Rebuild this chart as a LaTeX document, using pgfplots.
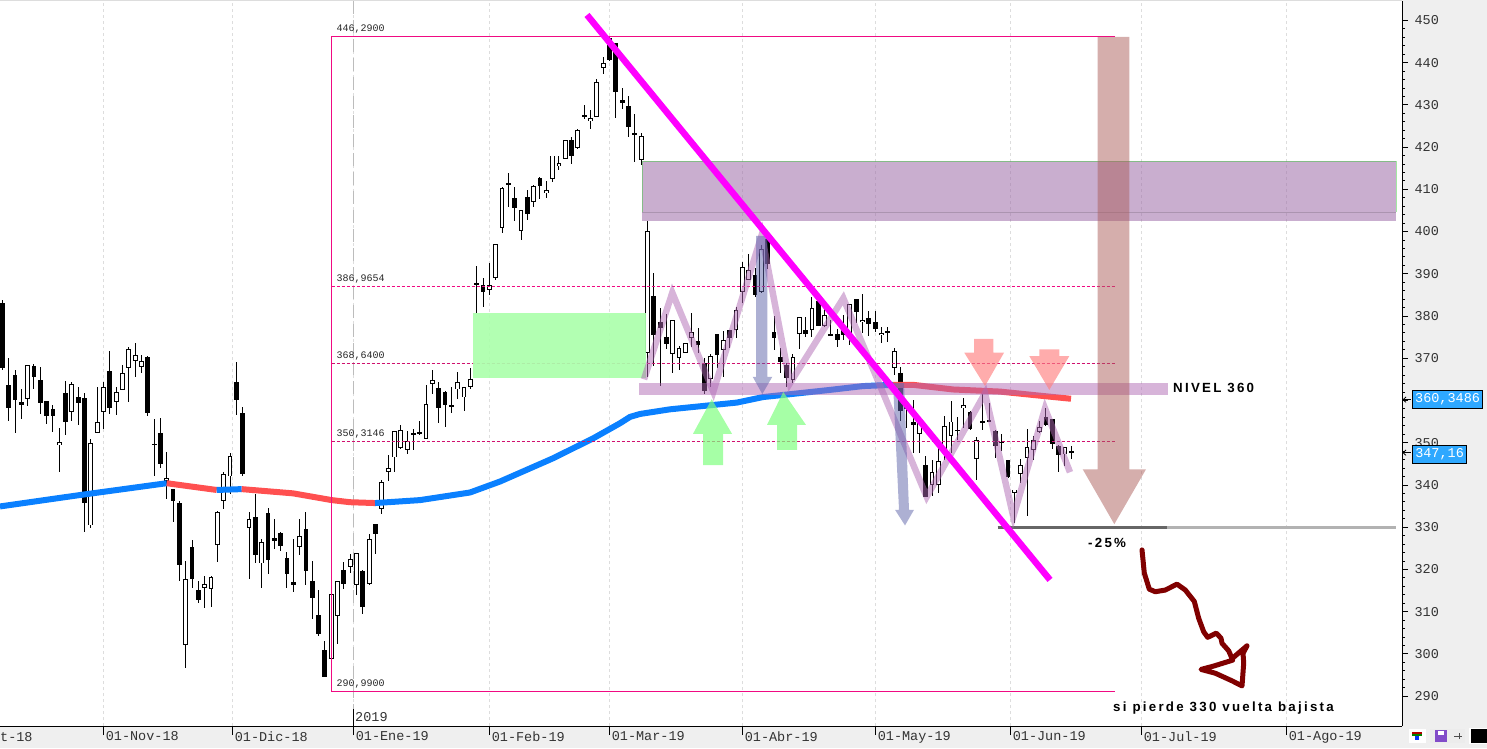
\documentclass[border=0pt]{standalone}
\usepackage{fontspec}
\setmainfont{Liberation Sans}
\setmonofont{Liberation Mono}
\newfontfamily\notefont[LetterSpace=17]{Liberation Sans}
\usepackage{pgfplots}
\usepackage{pgfplotstable}
\pgfplotsset{compat=1.18}

\definecolor{panel}{HTML}{EFEFEF}
\definecolor{gridc}{HTML}{DDDDDD}
\definecolor{fib}{HTML}{F00A82}
\definecolor{fibd}{HTML}{D0106E}
\definecolor{mablue}{HTML}{0A80FF}
\definecolor{mared}{HTML}{FF5050}
\definecolor{zig}{HTML}{AF69B4}
\definecolor{boxp}{HTML}{9C6CA8}
\definecolor{slate}{HTML}{5C62A8}
\definecolor{boxg}{HTML}{ABFFAB}
\definecolor{brownarrow}{HTML}{AB5D5A}
\definecolor{tag}{HTML}{2EA8FF}
\definecolor{tickc}{HTML}{333333}

% bar number, open, high, low, close
\pgfplotstableread{
i o h l c
0 383.0 383.8 367.2 367.8
1 363.6 370.0 355.1 358.3
2 366.0 367.2 352.4 360.2
3 359.6 362.7 355.6 359.0
5 368.1 368.6 362.8 365.6
6 364.8 367.9 356.8 359.5
7 359.8 359.8 354.4 356.4
8 357.9 358.9 352.5 356.2
10 361.7 364.6 351.8 354.8
12 360.8 363.3 354.2 359.5
13 360.5 361.7 328.9 335.8
17 366.9 371.6 356.8 358.1
23 370.2 370.5 356.2 357.1
24 349.7 355.5 342.2 349.5
25 352.2 355.8 344.1 345.0
27 339.0 339.0 331.3 336.3
28 335.6 336.1 317.3 321.1
30 325.2 326.9 315.7 317.6
31 315.0 317.2 312.1 312.7
37 364.3 369.0 356.6 360.2
38 357.0 358.4 342.0 342.7
40 332.3 337.9 321.5 323.5
42 333.3 334.5 319.0 322.3
43 327.4 331.9 324.8 326.8
44 328.5 328.8 324.3 325.6
45 322.6 324.0 315.7 319.0
46 316.9 327.3 314.7 316.4
48 329.5 333.5 316.4 319.7
49 317.2 321.9 308.3 313.3
50 309.1 315.0 304.3 304.8
51 300.9 303.0 294.4 294.4
54 319.8 321.7 315.4 316.6
57 319.5 319.8 309.5 311.2
59 330.7 330.7 323.6 328.3
65 352.2 353.2 348.2 352.0
66 352.5 355.1 351.8 352.2
69 362.9 364.3 354.6 358.1
70 361.9 362.2 353.8 358.9
71 358.9 363.1 357.1 358.5
75 387.75 391.8 380.6 387.4
76 387.3 388.9 382.2 385.8
81 407.9 410.5 402.4 405.5
83 408.1 409.8 402.8 404.1
85 412.6 412.9 407.8 410.7
90 421.6 422.3 415.9 417.8
92 427.5 429.9 426.6 427.1
96 445.8 446.3 440.3 440.7
97 444.6 444.6 426.8 433.0
98 431.1 433.9 429.0 430.4
99 429.7 432.0 422.3 424.7
100 423.3 427.8 416.5 422.8
103 384.7 390.1 368.2 375.5
104 378.5 381.8 363.5 377.2
105 375.0 380.4 372.2 373.4
110 374.0 377.1 371.2 373.1
111 368.8 370.0 361.6 362.3
113 375.7 375.7 367.7 370.7
115 376.6 376.6 372.4 374.7
119 389.7 391.3 384.4 384.9
121 398.2 399.6 391.1 392.2
122 376.1 379.9 372.0 374.7
123 370.2 372.4 366.4 369.2
124 368.3 368.8 363.1 365.2
127 376.6 379.7 375.0 375.7
129 383.5 384.2 377.7 377.7
131 375.7 379.0 375.2 375.4
132 375.7 376.9 372.7 374.2
133 377.1 380.3 374.3 375.5
135 384.0 384.0 378.3 380.9
137 379.5 381.1 375.2 378.0
138 378.5 381.1 376.1 377.0
140 376.4 377.3 373.8 376.1
142 366.4 367.9 355.1 357.4
143 358.9 360.0 353.4 357.9
144 354.9 360.0 347.5 354.2
146 344.6 346.8 337.2 337.2
151 353.0 356.0 350.6 352.8
153 357.2 357.4 352.9 353.2
155 355.1 361.5 353.0 354.9
156 355.3 359.3 355.0 355.0
157 352.8 352.9 346.3 349.1
158 350.2 352.0 348.0 350.0
159 345.8 345.8 341.6 341.8
165 356.0 358.1 353.9 354.1
166 355.5 355.5 348.4 349.6
167 349.1 349.4 343.0 347.2
169 348.0 349.1 346.1 347.5
}\downbars

\pgfplotstableread{
i o h l c
4 360.4 368.3 358.8 368.3
9 349.5 353.4 343.1 350.1
11 357.3 364.3 355.1 363.8
14 330.4 350.8 329.9 349.9
15 352.4 363.1 352.4 354.8
16 357.3 364.3 353.25 363.1
18 359.7 363.1 356.6 361.9
19 362.4 368.3 362.4 366.4
20 367.6 372.6 359.6 372.1
21 369.3 373.5 365.6 370.7
22 367.9 370.7 366.4 369.3
26 341.0 347.7 336.7 341.6
29 302.2 321.9 296.7 317.6
32 315.5 318.4 310.9 316.5
33 315.3 318.5 311.2 318.1
34 325.7 333.8 321.8 333.5
35 336.1 343.0 334.3 342.5
36 342.0 347.5 337.8 346.8
39 329.9 333.5 317.6 331.9
41 321.4 327.1 315.7 326.4
47 325.4 331.9 323.4 328.0
52 298.7 314.1 298.7 314.1
53 309.0 317.2 302.3 317.2
55 320.5 323.6 319.1 322.5
56 316.2 323.8 314.0 323.8
58 316.6 328.3 316.4 327.1
60 334.2 341.1 333.0 340.6
61 343.0 347.0 341.0 343.9
62 346.5 352.7 343.1 352.7
63 348.7 354.1 348.4 352.9
64 348.2 352.7 347.3 350.3
67 350.8 363.6 350.8 359.1
68 363.8 367.1 361.6 364.8
72 362.6 366.7 360.4 364.3
73 360.7 363.1 357.6 363.1
74 363.1 367.6 362.6 365.0
77 386.1 392.5 384.9 387.4
78 388.9 397.0 388.5 397.0
79 400.8 410.5 399.7 410.2
80 411.3 413.8 405.9 411.4
82 400.1 405.0 398.1 405.0
84 406.9 411.0 405.7 410.7
86 409.1 411.9 408.0 409.8
87 412.4 418.0 411.7 418.0
88 415.5 417.8 414.6 416.2
89 417.1 421.6 417.1 421.6
91 419.7 424.2 419.5 424.0
93 426.1 428.7 424.4 426.8
94 427.1 436.1 427.1 435.4
95 438.7 441.3 437.2 439.9
101 416.9 423.3 415.7 422.6
102 371.3 402.4 365.6 400.1
106 370.9 379.0 366.6 379.0
107 370.0 372.8 367.3 372.4
108 371.2 373.5 371.2 373.5
109 374.7 380.6 372.6 376.1
112 365.0 370.9 363.1 370.5
114 371.9 376.4 365.6 374.2
116 376.6 382.1 374.9 381.4
117 385.8 392.7 383.0 391.5
118 388.5 394.6 388.5 390.8
120 385.8 396.7 385.4 395.8
125 364.8 370.9 364.1 370.2
126 375.7 379.7 372.2 379.7
128 376.6 384.4 375.0 381.8
130 377.6 381.6 377.5 380.2
134 375.9 382.8 373.1 382.8
136 378.5 385.1 375.9 379.0
139 375.4 377.3 373.5 375.9
141 367.8 372.4 366.0 371.6
145 352.0 354.6 347.5 354.6
147 339.9 345.8 337.3 343.0
148 339.9 348.7 338.0 345.6
149 347.5 356.2 346.0 353.9
150 351.5 359.8 347.5 355.0
152 358.1 360.5 353.4 358.9
154 346.1 351.3 341.2 350.6
160 338.2 338.9 330.9 338.9
161 342.5 346.1 340.4 344.6
162 346.3 353.2 332.7 348.9
163 348.2 351.5 345.8 350.6
164 352.5 355.1 352.2 353.6
168 347.2 348.9 344.4 348.9
}\upbars

% x position of a bar on the axis
\newcommand{\barx}{2.3+6.325*\thisrow{i}}

\pgfplotsset{
  bars/.style 2 args={mark=none, draw=none, forget plot,
    error bars/.cd, y dir=both, y explicit,
    draw error bar/.code 2 args={\draw[line cap=butt] ##1 -- ##2;},
    error bar style={line width=#1, draw=#2}},
}

\begin{document}
\begin{tikzpicture}[x=1pt,y=1pt]
\path[use as bounding box] (0,0) rectangle (1487,748);
\fill[panel] (1402,0) rectangle (1487,748);
\fill[panel] (0,0) rectangle (1487,22);
\fill[gridc] (0,747) rectangle (1402,748);

\begin{axis}[
  at={(0pt,22pt)}, anchor=south west,
  scale only axis, width=1402pt, height=725pt,
  xmin=0, xmax=1402, ymin=282.9, ymax=454.6,
  clip=false,
  axis y line*=right, axis x line*=bottom,
  axis line style={-, black, line width=1pt},
  xtick={103.3,232.3,353.3,489.3,609.3,742.3,875.3,1010.3,1141.3,1286.3},
  xticklabels={01-Nov-18,01-Dic-18,01-Ene-19,01-Feb-19,01-Mar-19,01-Abr-19,01-May-19,01-Jun-19,01-Jul-19,01-Ago-19},
  ytick={290,300,...,450},
  minor y tick num=4,
  tick align=outside,
  major tick length=6pt, minor tick length=3pt,
  xtick style={/pgfplots/major tick length=9pt, black, line width=0.8pt},
  ytick style={black, line width=0.8pt},
  minor tick style={black, line width=0.8pt},
  xmajorgrids,
  grid style={gridc, line width=0.8pt, dash pattern=on 3pt off 3pt},
  /pgf/number format/assume math mode=true,
  xticklabel style={font=\fontsize{13.5}{14}\selectfont\ttfamily, text=tickc, anchor=north west, xshift=-1pt, yshift=4pt},
  yticklabel style={font=\fontsize{13.5}{14}\selectfont\ttfamily, text=tickc, anchor=west, xshift=3pt},
]

% year line
\addplot[gridc!85!black, line width=1.2pt, dash pattern=on 13pt off 6pt] coordinates {(353.3,454.6) (353.3,282.9)};

% wicks and bodies
\addplot[bars={0.9pt}{black}] table[x expr=\barx, y expr=(\thisrow{h}+\thisrow{l})/2, y error expr=(\thisrow{h}-\thisrow{l})/2] {\downbars};
\addplot[bars={0.9pt}{black}] table[x expr=\barx, y expr=(\thisrow{h}+\thisrow{l})/2, y error expr=(\thisrow{h}-\thisrow{l})/2] {\upbars};
\addplot[bars={4.8pt}{black}] table[x expr=\barx, y expr=(\thisrow{o}+\thisrow{c})/2, y error expr=abs(\thisrow{o}-\thisrow{c})/2] {\downbars};
\addplot[bars={4.8pt}{black}] table[x expr=\barx, y expr=(\thisrow{o}+\thisrow{c})/2, y error expr=abs(\thisrow{o}-\thisrow{c})/2] {\upbars};
\addplot[bars={2.8pt}{white}] table[x expr=\barx, y expr=(\thisrow{o}+\thisrow{c})/2, y error expr={max(abs(\thisrow{o}-\thisrow{c})/2-0.22,0)}] {\upbars};

% moving average
\addplot[mablue, line width=6pt] coordinates {(0,334.9) (80,337.6) (166.7,340.4)};
\addplot[mared, line width=6pt] coordinates {(166.7,340.4) (216.7,338.8)};
\addplot[mablue, line width=6pt] coordinates {(216.7,338.8) (241.7,339.0)};
\addplot[mared, line width=6pt] coordinates {(241.7,339.0) (293,338.0) (331.7,336.4) (350,335.9) (375,335.7)};
\addplot[mablue, line width=6pt] coordinates {(375,335.7) (420,336.4) (470,338.2) (500,340.8) (553,346.3) (593,351.0) (620,354.6) (630,356.1) (640,356.8) (670,357.9) (737,359.5) (763,360.8) (783,361.3) (830,362.5) (863,363.4) (893,363.7)};
\addplot[mared, line width=6pt] coordinates {(893,363.7) (913,363.7) (953,362.6) (1000,362.1) (1037,361.2) (1071,360.4)};

% retracement lines
\addplot[fib, line width=1pt] coordinates {(1115,446.29) (331.5,446.29) (331.5,290.99) (1115,290.99)};
\addplot[fib, line width=1pt, dash pattern=on 3pt off 2pt] coordinates {(331.5,386.9654) (1115,386.9654)};
\addplot[fibd, line width=1pt, dash pattern=on 3pt off 2pt] coordinates {(331.5,368.64) (1115,368.64)};
\addplot[fibd, line width=1pt, dash pattern=on 3pt off 2pt] coordinates {(331.5,350.3146) (1115,350.3146)};

% zones
\addplot[fill=boxg, draw=none, fill opacity=0.92] coordinates {(472.7,380.8) (646,380.8) (646,365.3) (472.7,365.3)} -- cycle;
\addplot[fill=boxp, draw=none, fill opacity=0.55] coordinates {(642,416.6) (1396,416.6) (1396,402.6) (642,402.6)} -- cycle;
\addplot[draw=green!60!gray, draw opacity=0.45, line width=0.8pt] coordinates {(642,404.6) (642,416.6) (1396,416.6) (1396,404.6)};
\addplot[draw=black, draw opacity=0.15, line width=0.8pt] coordinates {(642,404.6) (1396,404.6)};
\addplot[fill=zig, draw=none, fill opacity=0.5] coordinates {(639.3,364.1) (1168,364.1) (1168,361.2) (639.3,361.2)} -- cycle;

% support line at 330
\addplot[gray!60, line width=3.5pt] coordinates {(997.7,329.9) (1396,329.9)};
\addplot[black!60, line width=3.5pt] coordinates {(997.7,329.9) (1167.3,329.9)};

% swings
\addplot[zig, opacity=0.5, line width=6.5pt] coordinates {(644,365.0) (672.3,385.5) (713.3,362.1) (761.7,399.2) (790,364.1) (843.3,384.2) (926.7,337.2) (985,361.7) (1013.3,332.5) (1045,358.1) (1070,343.0)};

% arrows
\addplot[fill=slate, draw=none, fill opacity=0.5] coordinates {(756,399) (767.3,399) (767.3,365.6) (772.3,365.6) (762.3,361.5) (752.7,365.6) (756,365.6)} -- cycle;
\addplot[fill=slate, draw=none, fill opacity=0.5] coordinates {(893,364.1) (904,364.1) (909,334.1) (914,334.1) (905,330.4) (895,334.1) (899,334.1)} -- cycle;
\addplot[fill=green!50, draw=none, fill opacity=0.7] coordinates {(703,344.7) (723,344.7) (723,352.1) (732,352.1) (711.7,360.3) (693,352.1) (703,352.1)} -- cycle;
\addplot[fill=green!50, draw=none, fill opacity=0.7] coordinates {(777,348.3) (797,348.3) (797,354.2) (806,354.2) (783.3,362.0) (767,354.2) (777,354.2)} -- cycle;
\addplot[fill=red!50, draw=none, fill opacity=0.65] coordinates {(974,374.6) (993.3,374.6) (993.3,371.3) (1004,371.3) (985,363.4) (964.3,371.3) (974,371.3)} -- cycle;
\addplot[fill=red!50, draw=none, fill opacity=0.65] coordinates {(1039.3,372.1) (1059.3,372.1) (1059.3,370.5) (1069.3,370.5) (1049.3,362.5) (1029.3,370.5) (1039.3,370.5)} -- cycle;
\addplot[fill=brownarrow, draw=none, fill opacity=0.5] coordinates {(1097.7,446.1) (1129.3,446.1) (1129.3,343.7) (1146,343.7) (1114.3,330.7) (1082.7,343.7) (1097.7,343.7)} -- cycle;

% trend line
\addplot[color={rgb,1:red,1;green,0;blue,1}, line width=6.5pt] coordinates {(587,451.3) (1050,317.5)};

% hand drawn arrow
\addplot[color={rgb,255:red,128;green,0;blue,0}, line width=5pt, line join=round, line cap=round] coordinates {
  (1142,324.6) (1144.3,319.1) (1149.3,315.3) (1155.3,314.7) (1165.3,315.1) (1177,316.5) (1185.3,315.1)
  (1194.3,312.4) (1198.7,308.4) (1203.7,305.2) (1207.7,303.9) (1216.3,304.9) (1221,303.7) (1222,302.5)
  (1228.7,300.7) (1232.7,298.5) (1213.7,297.1) (1201,296.3) (1215.3,295.4) (1232,293.6) (1242,292.4)
  (1243.7,297.8) (1243,300.1) (1247,301.9) (1232.7,299.0)};

% texts
\tikzset{fiblab/.style={anchor=west, inner sep=0pt, font=\fontsize{10}{11}\selectfont\ttfamily, text=black!85}}
\node[fiblab] at (axis cs:336.5,447.9) {446,2900};
\node[fiblab] at (axis cs:336.5,388.7) {386,9654};
\node[fiblab] at (axis cs:336.5,370.4) {368,6400};
\node[fiblab] at (axis cs:336.5,352.0) {350,3146};
\node[fiblab] at (axis cs:336.5,292.8) {290,9900};
\tikzset{notelab/.style={anchor=west, inner sep=0pt, font=\fontsize{13.3}{14}\selectfont\notefont\bfseries}}
\node[notelab] at (axis cs:1173,362.9) {NIVEL 360};
\node[notelab] at (axis cs:1088,326.2) {-25\%};
\node[notelab] at (axis cs:1113,287.2) {si pierde 330 vuelta bajista};
\node[anchor=west, inner sep=0pt, font=\fontsize{13.5}{14}\selectfont\ttfamily, text=tickc] at (axis cs:355,285.0) {2019};
\addplot[black, line width=0.8pt] coordinates {(353.8,282.9) (353.8,287)};
\end{axis}

% outside the axis, above its tick labels
\node[anchor=west, inner sep=0pt, font=\fontsize{13.5}{14}\selectfont\ttfamily, text=tickc] at (0,11) {t-18};
\tikzset{taglab/.style={anchor=west, inner sep=0pt, draw=black, line width=1pt, fill=tag, text=white, minimum height=18pt, align=center, font=\fontsize{13.5}{14}\selectfont\ttfamily}}
\node[taglab, minimum width=69.5pt] at (1412.3,348.7) {360,3486};
\node[taglab, minimum width=53.5pt] at (1412.3,293.5) {347,16};
\draw[line width=0.8pt] (1403,348.3) -- (1411,348.3);
\draw[line width=0.8pt] (1406,351) -- (1403,348.3) -- (1406,345.6);
\draw[line width=0.8pt] (1403,295.3) -- (1411,295.3);
\draw[line width=0.8pt] (1406,298) -- (1403,295.3) -- (1406,292.6);

% toolbar buttons
\fill[white] (1408.7,5) rectangle (1426,19);
\fill[red!70!black] (1412,14) rectangle (1422,16);
\fill[green!50!black] (1412,12) rectangle (1422,14);
\fill[blue!80!cyan] (1415,8) rectangle (1419,12);
\fill[gray!15] (1430,5) rectangle (1465,19);
\fill[violet!60!blue!70] (1435,6) rectangle (1447,18);
\fill[white] (1438,13) rectangle (1444,17);
\draw[black!70, line width=0.8pt] (1454,12) -- (1462,12) (1459,9) -- (1459,15);
\fill[white] (1469,4) rectangle (1487,20);
\fill[black] (1470.5,5) rectangle (1487,19);
\end{tikzpicture}
\end{document}
